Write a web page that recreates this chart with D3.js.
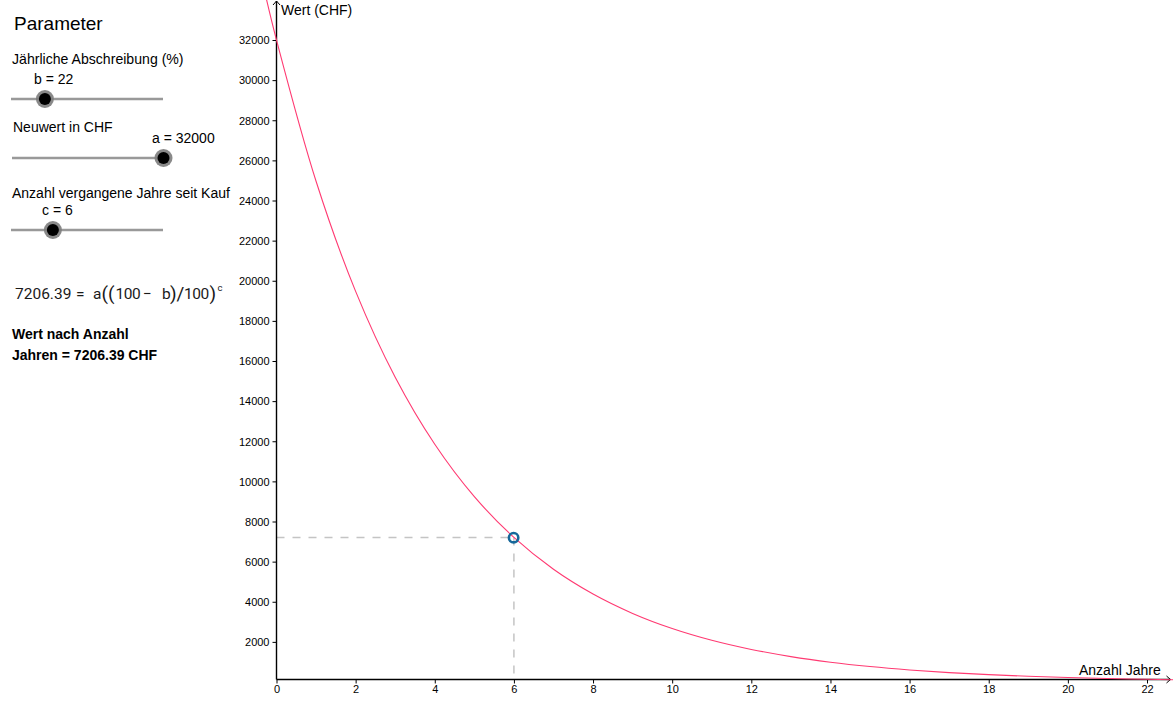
<!DOCTYPE html>
<html><head><meta charset="utf-8">
<script src="https://cdn.jsdelivr.net/npm/d3@7"></script>
<style>html,body{margin:0;padding:0;background:#fff;overflow:hidden}svg{display:block}text{font-family:"Liberation Sans",Arial,sans-serif;fill:#000}</style>
</head><body>
<svg id="c" width="1173" height="706"></svg>
<script>
const years = [-0.25,0,1,2,3,4,5,6,7,8,9,10,11,12,13,14,15,16,17,18,19,20,21,22,23,24];
const values = [34000,32000,24960,19470,15190,11850,9240,7206,5620,4385,3420,2667,2080,1623,1266,987,770,601,469,366,285,222,173,135,105,82];
const xTicks = [0,2,4,6,8,10,12,14,16,18,20,22];
const yTicks = [2000,4000,6000,8000,10000,12000,14000,16000,18000,20000,22000,24000,26000,28000,30000,32000];
const pointYear = 6, pointValue = 7206.39, axisCrossValue = 125;
const xTitle = "Anzahl Jahre", yTitle = "Wert (CHF)";
const sliders = [
  {name:"b",value:22,min:0,max:100,label:"Jährliche Abschreibung (%)"},
  {name:"a",value:32000,min:0,max:32000,label:"Neuwert in CHF"},
  {name:"c",value:6,min:0,max:22,label:"Anzahl vergangene Jahre seit Kauf"}];
const sliderGeom = [
  {x0:11,x1:163,y:99,lx:12,ly:64,vx:34,vy:84,fs:14.1},
  {x0:12,x1:163.5,y:158,lx:13,ly:132,vx:152,vy:143,fs:14},
  {x0:11,x1:163,y:230,lx:12,ly:198,vx:42,vy:215,fs:14}];
const formulaParts = [
  ["7206.39",15,15.5],["=",76,15.5],["a",93,15.5],["(",101.5,19],["(",108,19],["100",115.5,15.5],
  ["−",143,15.5],["b",162,15.5],[")",170,19],["/",176.5,19],["100",184,15.5],[")",209.5,19]];

const svg = d3.select("#c");
const x = d3.scaleLinear().domain([0,22]).range([276.5,1147]);
const y = d3.scaleLinear().domain([0,32000]).range([682,40]);
const axisY = y(axisCrossValue), axisX = x(0);

// guides
const gc = "#c4c4c4";
svg.append("line").attr("x1",axisX).attr("x2",x(pointYear)).attr("y1",y(pointValue)).attr("y2",y(pointValue))
  .attr("stroke",gc).attr("stroke-width",1.5).attr("stroke-dasharray","8 8");
svg.append("line").attr("x1",x(pointYear)).attr("x2",x(pointYear)).attr("y1",y(pointValue)).attr("y2",axisY)
  .attr("stroke",gc).attr("stroke-width",1.5).attr("stroke-dasharray","8 8");

// axes
const gx = svg.append("g").attr("transform",`translate(0,${axisY})`)
  .call(d3.axisBottom(x).tickValues(xTicks).tickFormat(d3.format("d")).tickSize(4).tickSizeOuter(0));
const gy = svg.append("g").attr("transform",`translate(${axisX},0)`)
  .call(d3.axisLeft(y).tickValues(yTicks).tickFormat(d3.format("d")).tickSize(4).tickSizeOuter(0));
for (const g of [gx,gy]) {
  g.select(".domain").remove();
  g.selectAll("line").attr("stroke","#000").attr("stroke-width",1);
  g.selectAll("text").style("font-size","11px").attr("fill","#000");
}
gx.selectAll("text").attr("y",6).attr("dy","0.71em");
gy.selectAll("text").attr("x",-7).attr("dy","0.34em");
svg.append("line").attr("x1",axisX).attr("x2",1170.5).attr("y1",axisY).attr("y2",axisY).attr("stroke","#000").attr("stroke-width",1.4);
svg.append("line").attr("x1",axisX).attr("x2",axisX).attr("y1",axisY).attr("y2",1).attr("stroke","#000").attr("stroke-width",1.4);
svg.append("path").attr("d",d3.line()([[1166.5,axisY-3.5],[1170.5,axisY],[1166.5,axisY+3.5]])).attr("fill","none").attr("stroke","#000").attr("stroke-width",1);
svg.append("path").attr("d",d3.line()([[axisX-3.5,5],[axisX,1],[axisX+3.5,5]])).attr("fill","none").attr("stroke","#000").attr("stroke-width",1);
svg.append("text").attr("x",1079).attr("y",675).style("font-size","14px").text(xTitle);
svg.append("text").attr("x",281).attr("y",15).style("font-size","14px").text(yTitle);

// curve
svg.append("path").datum(d3.zip(years,values))
  .attr("d",d3.line().x(d=>x(d[0])).y(d=>y(d[1])).curve(d3.curveCatmullRom.alpha(0.5)))
  .attr("fill","none").attr("stroke","#ff3a72").attr("stroke-width",1.1);

// point
svg.append("circle").attr("cx",x(pointYear)-0.3).attr("cy",y(pointValue)+0.3).attr("r",4.7)
  .attr("fill","none").attr("stroke","#16689a").attr("stroke-width",2.6);

// panel
svg.append("text").attr("x",14).attr("y",30).style("font-size","19px").text("Parameter");
sliders.forEach((s,i)=>{
  const g = sliderGeom[i];
  const sx = d3.scaleLinear().domain([s.min,s.max]).range([g.x0+0.6,g.x1]);
  svg.append("text").attr("x",g.lx).attr("y",g.ly).style("font-size",g.fs+"px").text(s.label);
  svg.append("text").attr("x",g.vx).attr("y",g.vy).style("font-size","14px").text(`${s.name} = ${s.value}`);
  svg.append("line").attr("x1",g.x0).attr("x2",g.x1).attr("y1",g.y).attr("y2",g.y).attr("stroke","#999").attr("stroke-width",2.6);
  svg.append("circle").attr("cx",sx(s.value)).attr("cy",g.y).attr("r",9).attr("fill","#7c7c7c").attr("opacity",.9);
  svg.append("circle").attr("cx",sx(s.value)).attr("cy",g.y).attr("r",6).attr("fill","#000");
});

// formula
const f = svg.append("g");
formulaParts.forEach(([t,px,fs])=>{
  f.append("text").attr("x",px).attr("y",fs>17?300:299).style("font-family","Roboto,sans-serif")
    .style("font-size",fs+"px").style("letter-spacing",t==="100"?"-0.4px":"0").style("fill","#1a1a1a").text(t);
});
f.append("text").attr("x",217.5).attr("y",291).style("font-family","Roboto,sans-serif").style("font-size","9.5px").style("fill","#1a1a1a").text("c");

svg.append("text").attr("x",12).attr("y",339).style("font-size","14px").style("font-weight","bold").text("Wert nach Anzahl");
svg.append("text").attr("x",12).attr("y",360).style("font-size","14px").style("font-weight","bold").text("Jahren = 7206.39 CHF");
</script>
</body></html>
